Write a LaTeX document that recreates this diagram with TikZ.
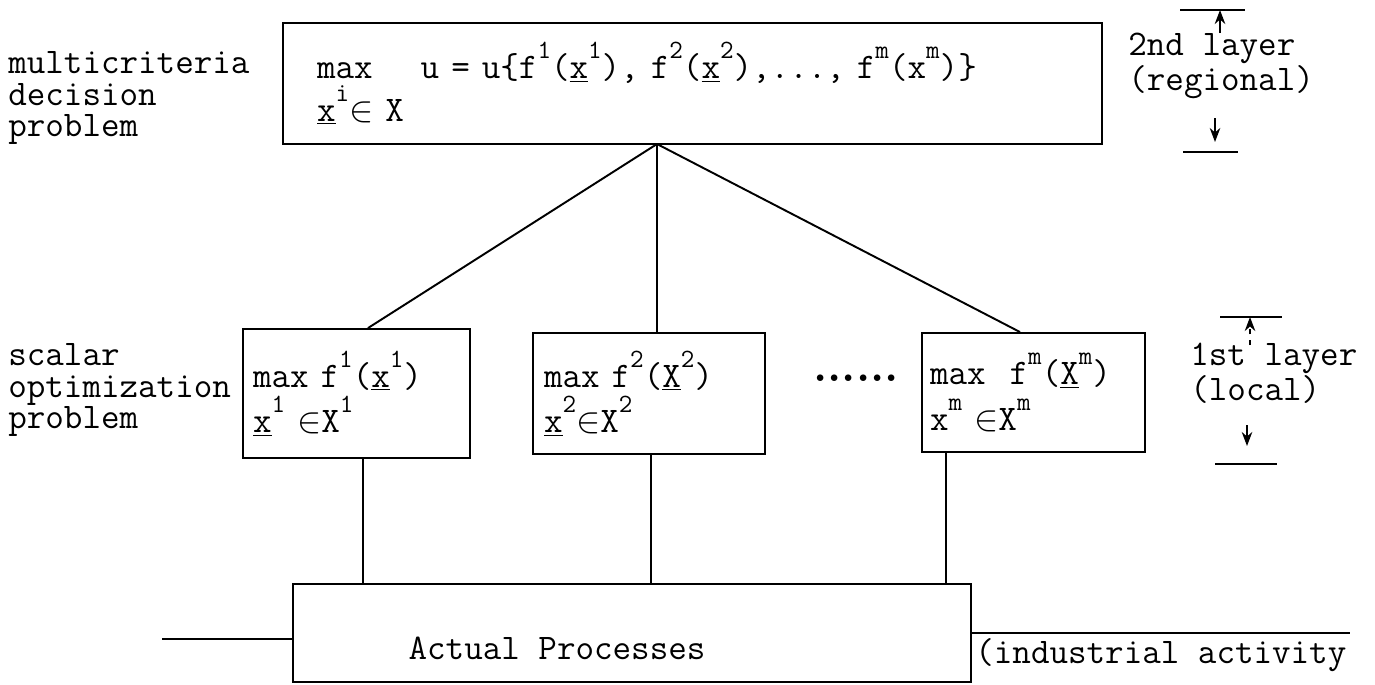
\documentclass[tikz,border=0pt]{standalone}
\usepackage{fontspec}
\usetikzlibrary{arrows.meta, positioning}
\newcommand{\upx}[1]{\raisebox{0.55em}{\fontsize{15}{15}\selectfont #1}}

\begin{document}
\begin{tikzpicture}[
  x=0.02cm, y=-0.02cm,
  txt/.style={font=\ttfamily\fontsize{20.5}{18}\selectfont, align=left, inner sep=0pt},
  goal/.style={rectangle, draw, line width=1.1pt, font=\ttfamily\fontsize{20.5}{18.8}\selectfont, align=left},
  sub/.style={rectangle, draw, line width=1.1pt, font=\ttfamily\fontsize{20.5}{26}\selectfont, align=left},
  wire/.style={line width=1.1pt},
  tick/.style={line width=0.8pt},
  >={Stealth[length=8pt, width=6pt]}
]
  \useasboundingbox (0,0) rectangle (1375,684);

  % 2nd layer
  \node[goal, minimum width=16.38cm, minimum height=2.42cm, text width=15.02cm, inner xsep=0.68cm] (T) at (692.5,83.5)
    {max~~~~u~=~u\{f\upx{1}(\underline{x}\upx{1}),~f\upx{2}(\underline{x}\upx{2}),...,~f\upx{m}(x\upx{m})\}\\
     \underline{x}\upx{i}$\in$~X};

  % 1st layer
  \node[sub, minimum width=4.54cm, minimum height=2.58cm, text width=4.14cm, inner xsep=0.2cm] (L1) at (356.5,393.5)
    {max~f\upx{1}(\underline{x}\upx{1})\\ \underline{x}\upx{1}~$\in$X\upx{1}};
  \node[sub, minimum width=4.64cm, minimum height=2.42cm, text width=4.2cm, inner xsep=0.22cm] (L2) at (649,393.5)
    {max~f\upx{2}(\underline{X}\upx{2})\\ \underline{x}\upx{2}$\in$X\upx{2}};
  \node[sub, minimum width=4.46cm, minimum height=2.38cm, text width=4.14cm, inner xsep=0.16cm] (Lm) at (1033.5,392.5)
    {max~~f\upx{m}(\underline{X}\upx{m})\\ x\upx{m}~$\in$X\upx{m}};
  \node[txt, font=\rmfamily\bfseries\fontsize{26}{26}\selectfont] (dots) at (856,378) {......};

  % process level
  \node[rectangle, draw, line width=1.1pt, minimum width=13.56cm, minimum height=1.96cm] (P) at (632,633) {};
  \node[txt] (Pt) at (557,648) {Actual Processes};
  \node[txt, anchor=west] (ind) at (975,655) {(industrial activity};

  % side labels
  \node[txt, anchor=west] (D) at (8,98) {multicriteria\\decision\\problem};
  \node[txt, anchor=west] (S) at (8,390) {scalar\\optimization\\problem};
  \node[txt, anchor=west] (R2) at (1128,66) {2nd layer\\(regional)};
  \node[txt, anchor=west] (R1) at (1190,373) {1st layer\\(local)};

  % tree
  \coordinate (apex) at (657,144);
  \draw[wire] (apex) -- ([xshift=0.23cm]L1.north);
  \draw[wire] (apex) -- ([xshift=0.16cm]L2.north);
  \draw[wire] (apex) -- ([xshift=-0.27cm]Lm.north);

  \coordinate (o1) at ([xshift=0.13cm]L1.south);
  \coordinate (o2) at ([xshift=0.04cm]L2.south);
  \coordinate (om) at ([xshift=-1.75cm]Lm.south);
  \draw[wire] (o1) -- (o1 |- P.north);
  \draw[wire] (o2) -- (o2 |- P.north);
  \draw[wire] (om) -- (om |- P.north);

  \coordinate (in) at (162,639);
  \coordinate (out) at (1350,633);
  \draw[wire] (in) -- (in -| P.west);
  \draw[wire] (P.east |- out) -- (out);

  % layer marks
  \coordinate (b2t) at (1212,10);
  \coordinate (b2b) at (1210,152);
  \coordinate (u2) at (1220,33);
  \coordinate (d2) at (1215,118);
  \draw[wire] ([xshift=-0.64cm]b2t) -- ([xshift=0.66cm]b2t);
  \draw[wire] ([xshift=-0.54cm]b2b) -- ([xshift=0.56cm]b2b);
  \draw[->, wire] (u2) -- (u2 |- b2t);
  \draw[->, wire] (d2) -- ([yshift=-0.48cm]d2);

  \coordinate (b1t) at (1251,317);
  \coordinate (b1b) at (1246,464);
  \coordinate (u1) at (1250,345);
  \coordinate (d1) at (1247,425);
  \draw[wire] ([xshift=-0.62cm]b1t) -- ([xshift=0.62cm]b1t);
  \draw[wire] ([xshift=-0.62cm]b1b) -- ([xshift=0.62cm]b1b);
  \draw[->, tick, dashed] (u1) -- (u1 |- b1t);
  \draw[->, tick] (d1) -- ([yshift=-0.42cm]d1);
\end{tikzpicture}
\end{document}
